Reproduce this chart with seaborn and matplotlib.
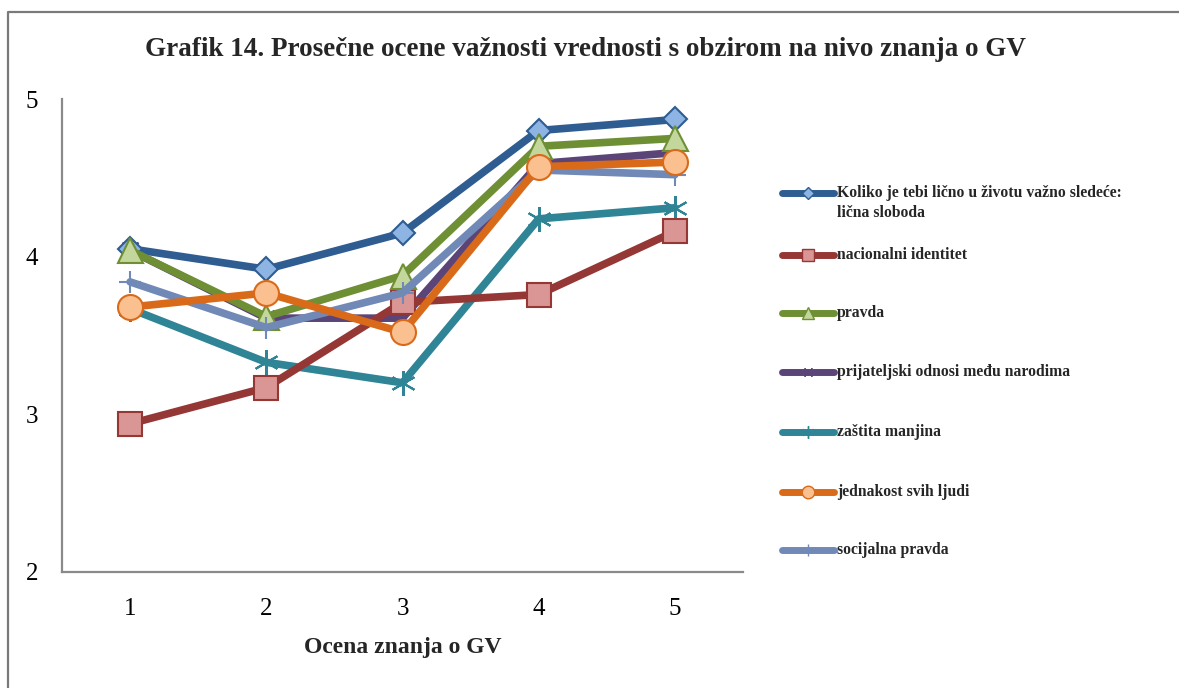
import numpy as np
import pandas as pd
import matplotlib
matplotlib.use("Agg")
import matplotlib.pyplot as plt
from matplotlib.lines import Line2D
import seaborn as sns

# ---- data ----
x_levels = [1, 2, 3, 4, 5]
series_names = [
    "Koliko je tebi lično u životu važno sledeće:\nlična sloboda",
    "nacionalni identitet",
    "pravda",
    "prijateljski odnosi među narodima",
    "zaštita manjina",
    "jednakost svih ljudi",
    "socijalna pravda",
]
licna_sloboda = [4.05, 3.92, 4.15, 4.80, 4.87]
nacionalni_identitet = [2.94, 3.17, 3.71, 3.76, 4.16]
pravda = [4.04, 3.62, 3.88, 4.70, 4.75]
prijateljski_odnosi = [4.04, 3.61, 3.61, 4.59, 4.66]
zastita_manjina = [3.67, 3.33, 3.20, 4.24, 4.31]
jednakost = [3.68, 3.77, 3.52, 4.57, 4.60]
socijalna_pravda = [3.84, 3.55, 3.77, 4.55, 4.52]
all_values = [licna_sloboda, nacionalni_identitet, pravda, prijateljski_odnosi,
              zastita_manjina, jednakost, socijalna_pravda]
y_ticks = [2, 3, 4, 5]

# ---- styles ----
line_colors = ["#2F5D91", "#953735", "#6F8F35", "#5B4478", "#2F8496", "#D96A1A", "#7189B6"]
face_colors = ["#8DB4E2", "#D99694", "#C3D69B", "#5B4478", "#2F8496", "#FAC090", "#7189B6"]
markers = ["D", "s", "^", (4, 2, 45), (6, 2, 0), "o", "+"]
msizes = [12, 17, 18, 16, 18, 18, 16]
zorders = [3, 4, 5, 2.5, 3.5, 6, 5.5]

sns.set_theme(style="white")
plt.rcParams["font.family"] = ["Liberation Serif", "DejaVu Serif"]

fig = plt.figure(figsize=(11.79, 6.88), dpi=100)
W, H = 1179, 688
ax = fig.add_axes([62 / W, 1 - 572 / H, (743 - 62) / W, (572 - 99) / H])

for i, vals in enumerate(all_values):
    df = pd.DataFrame({"x": x_levels, "y": vals})
    sns.lineplot(data=df, x="x", y="y", ax=ax, color=line_colors[i], lw=5.5,
                 marker=markers[i], markersize=msizes[i],
                 markerfacecolor=face_colors[i], markeredgecolor=line_colors[i],
                 markeredgewidth=1.5, zorder=zorders[i], legend=False)

ax.set_xlim(0.5, 5.5)
ax.set_ylim(2, 5)
ax.set_xticks(x_levels)
ax.set_yticks(y_ticks)
ax.tick_params(axis="both", length=0, labelsize=18, colors="black")
ax.tick_params(axis="x", pad=19)
ax.tick_params(axis="y", pad=17)
for s in ["top", "right"]:
    ax.spines[s].set_visible(False)
for s in ["left", "bottom"]:
    ax.spines[s].set_color("#8a8a8a")
    ax.spines[s].set_linewidth(1.6)
ax.set_xlabel("Ocena znanja o GV", fontsize=17, fontweight="bold", labelpad=12)
ax.set_ylabel("")
ax.grid(False)

fig.text(585 / W, 1 - 50 / H,
         "Grafik 14. Prosečne ocene važnosti vrednosti s obzirom na nivo znanja o GV",
         ha="center", va="center", fontsize=19.5, fontweight="bold")

# ---- overlay for border and legend ----
ov = fig.add_axes([0, 0, 1, 1], zorder=10)
ov.set_xlim(0, W)
ov.set_ylim(H, 0)
ov.axis("off")
ov.patch.set_alpha(0)
ov.plot([8, 8, W + 5], [H + 5, 12, 12], color="#7a7a7a", lw=1.6)

leg_y = [193, 255, 313, 372, 432, 492, 550]
for i, name in enumerate(series_names):
    y = leg_y[i]
    ov.add_line(Line2D([782, 834], [y, y], color=line_colors[i], lw=5))
    ov.plot([808], [y], marker=markers[i], markersize=msizes[i] * 0.5,
            markerfacecolor=face_colors[i], markeredgecolor=line_colors[i], mew=1)
    lines = name.split("\n")
    for j, t in enumerate(lines):
        ov.text(837, y + j * 20, t, ha="left", va="center", fontsize=11.3,
                fontweight="bold")

fig.savefig("out.png", dpi=100, facecolor="white")
